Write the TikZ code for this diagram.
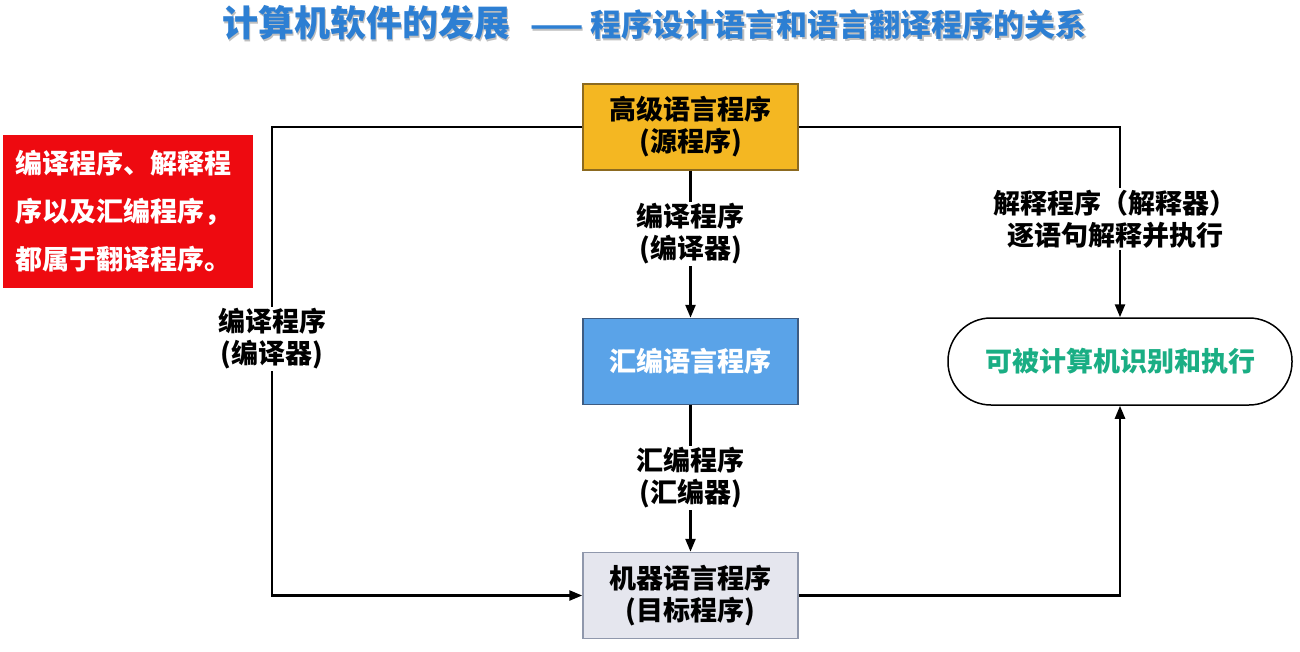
\documentclass[tikz,border=0pt]{standalone}
\usepackage{fontspec}
\setmainfont{Noto Sans CJK SC}
\usetikzlibrary{positioning}
\usetikzlibrary{arrows.meta}

\definecolor{titleblue}{HTML}{2D7FD3}
\definecolor{srcfill}{HTML}{F4B722}
\definecolor{srcline}{HTML}{8C6A20}
\definecolor{asmfill}{HTML}{5AA3E8}
\definecolor{asmline}{HTML}{3E5C82}
\definecolor{objfill}{HTML}{E5E6EE}
\definecolor{objline}{HTML}{9098AC}
\definecolor{notered}{HTML}{EE0A10}
\definecolor{execgreen}{HTML}{1AAE84}

\tikzset{
  prog/.style={draw,line width=1.5pt,minimum width=215pt,minimum height=86pt,
    inner sep=0pt,align=center,font=\bfseries\fontsize{27}{32}\selectfont},
  lbl/.style={fill=white,inner sep=2pt,align=center,
    font=\bfseries\fontsize{27}{32}\selectfont},
  link/.style={line width=2.5pt,-{Triangle[length=13pt,width=10pt]}},
  heading/.style={anchor=west,inner sep=0pt},
}

\begin{document}
\begin{tikzpicture}[x=1pt,y=-1pt]
        \useasboundingbox (0,0) rectangle (1300,652);

        % title, with a light shadow behind it
        \node[heading,text=black!25,font=\bfseries\fontsize{36}{36}\selectfont] at (223.5,24.5) {计算机软件的发展};
        \node[heading,text=titleblue,font=\bfseries\fontsize{36}{36}\selectfont] (title) at (222,23) {计算机软件的发展};
        \node[heading,text=black!25,font=\bfseries\fontsize{31}{31}\selectfont] at (531.5,26.5) {—— 程序设计语言和语言翻译程序的关系};
        \node[heading,text=titleblue,font=\bfseries\fontsize{31}{31}\selectfont] (subtitle) at (530,25) {—— 程序设计语言和语言翻译程序的关系};

        % note box
        \node[fill=notered,text=white,text width=226pt,inner xsep=12pt,inner ysep=0pt,
          minimum height=153pt,align=left,font=\bfseries\fontsize{27}{48}\selectfont]
          (note) at (128,211.5) {编译程序、解释程\\序以及汇编程序，\\都属于翻译程序。};

        % the three kinds of program
        \node[prog,fill=srcfill,draw=srcline] (src) at (690.5,127) {高级语言程序\\(源程序)};
        \node[prog,fill=asmfill,draw=asmline,text=white] (asm) at (690.5,361.5) {汇编语言程序};
        \node[prog,fill=objfill,draw=objline] (obj) at (690.5,595.5) {机器语言程序\\(目标程序)};
        \node[draw,line width=1.5pt,minimum width=344pt,minimum height=87pt,rounded corners=43pt,
          text=execgreen,font=\bfseries\fontsize{27}{32}\selectfont] (exec) at (1120,361.5) {可被计算机识别和执行};

        % connectors
        \coordinate (lturn) at (272,127);
        \draw[link] (src.west) -- (lturn) |- (obj.west);
        \draw[link] (src.south) -- (asm.north);
        \draw[link] (asm.south) -- (obj.north);
        \draw[link] (src.east) -| (exec.north);
        \draw[link] (obj.east) -| (exec.south);

        % labels on the connectors
        \node[lbl] (lcomp) at (272,339) {编译程序\\(编译器)};
        \node[lbl] (mcomp) at (690.5,234) {编译程序\\(编译器)};
        \node[lbl] (masm) at (690.5,478) {汇编程序\\(汇编器)};
        \node[lbl] (rint) at (1115,219) {解释程序（解释器）\\逐语句解释并执行};
      \end{tikzpicture}
\end{document}
